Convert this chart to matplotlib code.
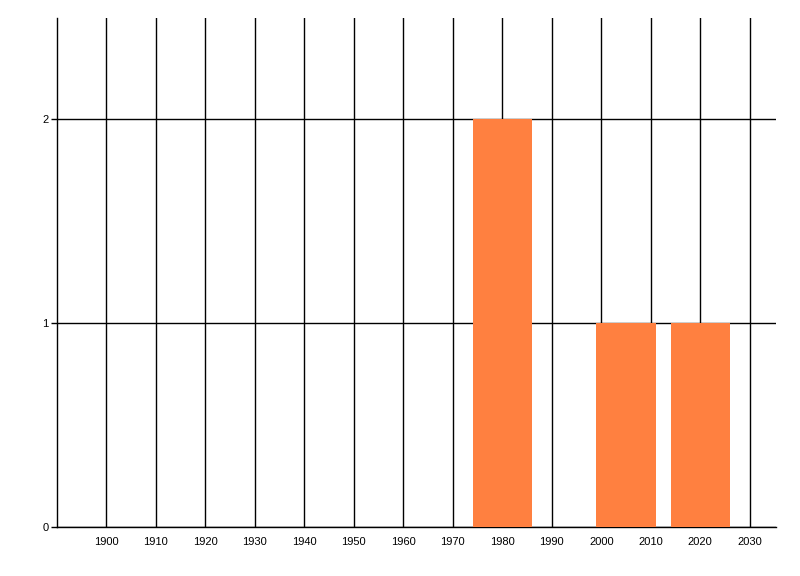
import matplotlib

matplotlib.use("Agg")
import matplotlib.pyplot as plt

# bar centres (years), counts
years = [1980, 2005, 2020]
counts = [2, 1, 1]
bar_width = 12
x_ticks = list(range(1900, 2031, 10))
y_ticks = [0, 1, 2]

plt.rcParams["font.family"] = ["Liberation Sans", "DejaVu Sans"]

fig = plt.figure(figsize=(8, 5.76), dpi=100)
ax = fig.add_axes([57 / 800, 1 - 527 / 576, (776 - 57) / 800, (527 - 18) / 576])

ax.bar(years, counts, width=bar_width, color="#FF8040", zorder=3)

ax.set_xlim(1890, 2035.3)
ax.set_ylim(0, 2.495)
ax.set_xticks(x_ticks)
ax.set_yticks(y_ticks)
ax.grid(True, color="black", linewidth=1.0, zorder=1)
ax.set_axisbelow(True)

for side in ("top", "right"):
    ax.spines[side].set_visible(False)
for side in ("left", "bottom"):
    ax.spines[side].set_linewidth(1.0)

ax.tick_params(axis="x", length=0, pad=7, labelsize=8)
ax.tick_params(axis="y", length=4, width=1.0, pad=2, labelsize=8)

fig.savefig("out.png", dpi=100)
